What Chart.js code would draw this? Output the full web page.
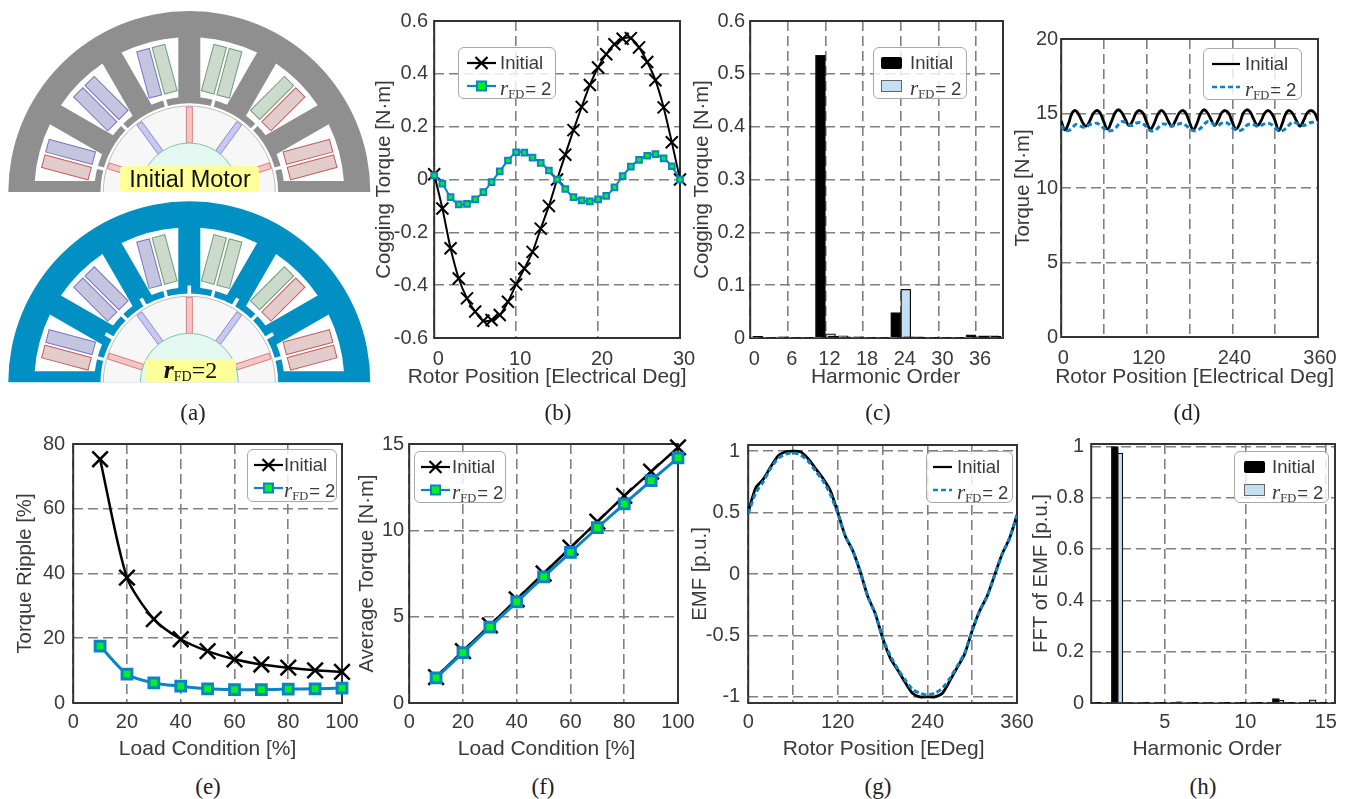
<!DOCTYPE html>
<html>
<head>
<meta charset="utf-8">
<title>Motor comparison</title>
<script src="https://cdn.jsdelivr.net/npm/chart.js@4"></script>
<style>
  html, body { margin: 0; padding: 0; background: #fff; }
  #page { position: relative; width: 1351px; height: 799px; overflow: hidden; font-family: "Liberation Sans", Arial, sans-serif; color: #3a3a3a; }
  canvas, svg.motor { position: absolute; }
  .caption { position: absolute; font: 23px "Liberation Serif", serif; color: #222; transform: translate(-50%, -50%); }
  .legend { position: absolute; box-sizing: border-box; background: rgba(255,255,255,0.82); border: 1.5px solid #a8a8a8; border-radius: 6px; }
  .legend span.t { position: absolute; font-size: 18.5px; line-height: 20px; white-space: nowrap; }
  .legend svg { position: absolute; }
  .legend i { font: italic 21px "Liberation Serif", serif; }
  .legend small { font: 12.5px "Liberation Serif", serif; position: relative; top: 3px; margin-right: 1px; }
</style>
</head>
<body>
<div id="page"></div>
<script>
// (b) cogging torque vs rotor position
const cogAngle = [0,1,2,3,4,5,6,7,8,9,10,11,12,13,14,15,16,17,18,19,20,21,22,23,24,25,26,27,28,29,30];
const cogInitial = [0.02,-0.11,-0.26,-0.375,-0.45,-0.5,-0.535,-0.532,-0.513,-0.463,-0.397,-0.337,-0.274,-0.186,-0.1,0,0.094,0.187,0.275,0.358,0.424,0.474,0.512,0.533,0.535,0.5,0.445,0.376,0.273,0.141,0];
const cogRfd = [0.015,-0.016,-0.067,-0.094,-0.092,-0.075,-0.048,-0.01,0.031,0.072,0.103,0.102,0.083,0.063,0.034,0,-0.036,-0.067,-0.079,-0.083,-0.075,-0.062,-0.03,0.013,0.049,0.074,0.09,0.096,0.08,0.05,0];

// (c) harmonics of cogging torque
const cogOrders = [0,2,4,6,8,10,12,14,16,18,20,22,24,26,28,30,32,34,36,38,40];
const cogHarmInitial = [0.003,0.003,0.001,0.002,0.001,0.001,0.535,0.003,0.002,0.002,0.001,0.001,0.048,0.002,0.001,0.001,0.001,0.001,0.006,0.004,0.003];
const cogHarmRfd = [0.001,0.001,0.001,0.001,0.001,0.001,0.008,0.004,0.001,0.001,0.001,0.001,0.092,0.002,0.001,0.001,0.001,0.001,0.002,0.004,0.001];

// (d) torque waveform, one sample every 5 degrees
const torqueAngle = [0,5,10,15,20,25,30,35,40,45,50,55,60,65,70,75,80,85,90,95,100,105,110,115,120,125,130,135,140,145,150,155,160,165,170,175,180,185,190,195,200,205,210,215,220,225,230,235,240,245,250,255,260,265,270,275,280,285,290,295,300,305,310,315,320,325,330,335,340,345,350,355,360];
const torqueInitial = [14.5,13.9,14.3,15,15.2,14.9,14.4,14.15,14.5,15,15.2,15,14.4,13.95,14.4,15,15.25,15.05,14.6,14.2,14.5,15.05,15.2,15,14.4,13.95,14.3,14.9,15.2,15,14.5,14.15,14.5,15,15.2,15,14.4,13.9,14.3,14.95,15.25,15.05,14.6,14.2,14.55,15.05,15.2,15,14.4,13.95,14.3,15,15.25,15.1,14.6,14.2,14.5,15,15.2,15,14.5,13.85,14.35,15,15.2,14.95,14.5,14.15,14.55,15.05,15.2,15.05,14.5];
const torqueRfd = [14.2,13.85,13.85,14,14.25,14.2,14.1,14.1,14.25,14.3,14.35,14.2,14,13.85,13.85,13.95,14.25,14.45,14.4,14.25,14.2,14.35,14.4,14.3,14.1,13.85,13.85,14,14.25,14.3,14.2,14.15,14.25,14.3,14.35,14.2,14,13.85,13.85,14,14.25,14.45,14.4,14.25,14.2,14.35,14.4,14.3,14.05,13.9,13.85,13.95,14.2,14.3,14.25,14.15,14.2,14.3,14.35,14.25,14.05,13.85,13.85,14,14.25,14.45,14.35,14.25,14.2,14.3,14.4,14.4,14.35];

// (e) and (f) load sweep
const loadPct = [10,20,30,40,50,60,70,80,90,100];
const rippleInitial = [75.3,38.7,25.9,19.7,16,13.5,11.9,10.9,10.1,9.6];
const rippleRfd = [17.6,8.9,6.2,5.2,4.4,4.1,4.1,4.3,4.4,4.6];
const avgInitial = [1.5,3,4.5,6,7.5,9,10.5,12,13.4,14.8];
const avgRfd = [1.45,2.92,4.39,5.86,7.31,8.72,10.15,11.53,12.88,14.2];

// (g) EMF waveform, one sample every 10 degrees
const emfAngle = [0,10,20,30,40,50,60,70,80,90,100,110,120,130,140,150,160,170,180,190,200,210,220,230,240,250,260,270,280,290,300,310,320,330,340,350,360];
const emfInitial = [0.505,0.7,0.77,0.87,0.96,0.995,1,0.995,0.94,0.86,0.78,0.68,0.5,0.31,0.19,0.02,-0.18,-0.32,-0.52,-0.68,-0.78,-0.88,-0.97,-1,-1,-1,-0.97,-0.87,-0.76,-0.65,-0.46,-0.3,-0.18,-0.01,0.16,0.29,0.48];
const emfRfd = [0.49,0.66,0.75,0.86,0.94,0.975,0.985,0.97,0.92,0.84,0.76,0.65,0.49,0.31,0.19,0.02,-0.18,-0.32,-0.52,-0.66,-0.77,-0.86,-0.94,-0.97,-0.985,-0.97,-0.93,-0.85,-0.75,-0.64,-0.46,-0.3,-0.18,-0.01,0.16,0.29,0.48];

// (h) harmonics of EMF
const emfOrders = [1,2,3,4,5,6,7,8,9,10,11,12,13,14,15];
const emfHarmInitial = [0.001,1,0.003,0.002,0.001,0.005,0.001,0.003,0.001,0.001,0.001,0.017,0.001,0.003,0.001];
const emfHarmRfd = [0.001,0.975,0.002,0.001,0.001,0.002,0.001,0.001,0.001,0.001,0.001,0.01,0.001,0.012,0.001];

// tick lists
const ticksCogY = [-0.6,-0.4,-0.2,0,0.2,0.4,0.6];
const ticksCogX = [0,10,20,30];
const ticksHarmY = [0,0.1,0.2,0.3,0.4,0.5,0.6];
const ticksHarmX = [0,6,12,18,24,30,36];
const ticksTorqueY = [0,5,10,15,20];
const ticksDeg = [0,60,120,180,240,300,360];
const ticksRippleY = [0,20,40,60,80];
const ticksLoadX = [0,20,40,60,80,100];
const ticksAvgY = [0,5,10,15];
const ticksEmfY = [-1,-0.5,0,0.5,1];
const ticksFftY = [0,0.2,0.4,0.6,0.8,1];
const ticksFftX = [5,10,15];

const BLUE = "#0a84c6";
const GREEN = "#00f020";
const BAR_BLUE = "#c5dff2";
const TXT = "#3a3a3a";
const FONT = '"Liberation Sans", Arial, sans-serif';
const page = document.getElementById("page");

const frame = {
  id: "frame",
  beforeDatasetsDraw(chart) {
    const { ctx, chartArea: a } = chart;
    ctx.save();
    ctx.strokeStyle = "#333";
    ctx.lineWidth = 2;
    ctx.strokeRect(a.left, a.top, a.right - a.left, a.bottom - a.top);
    ctx.restore();
  },
};

// x titles are wider than some plots and the scale title would squeeze them
const xTitle = {
  id: "xTitle",
  afterDraw(chart, args, opts) {
    const { ctx, chartArea: a } = chart;
    ctx.save();
    ctx.font = `21px ${FONT}`;
    ctx.fillStyle = TXT;
    ctx.textAlign = "center";
    ctx.textBaseline = "middle";
    ctx.fillText(opts.text, (a.left + a.right) / 2 + opts.shift, a.bottom + opts.off);
    ctx.restore();
  },
};

const pairs = (xs, ys, dx = 0) => ys.map((y, i) => ({ x: xs[i] + dx, y }));

const crossSet = (xs, ys, r, w) => ({
  data: pairs(xs, ys), borderColor: "#000", backgroundColor: "#000", borderWidth: w,
  pointStyle: "crossRot", pointRadius: r, pointBorderWidth: w, pointBorderColor: "#000",
  order: 2, clip: false,
});
const squareSet = (xs, ys, r, w) => ({
  data: pairs(xs, ys), borderColor: BLUE, borderWidth: w,
  pointStyle: "rect", pointRadius: r, pointBorderWidth: w, pointBorderColor: BLUE, pointBackgroundColor: GREEN,
  order: 1, clip: false,
});
const plainSet = (xs, ys) => ({ data: pairs(xs, ys), borderColor: "#000", borderWidth: 2.8, pointRadius: 0, order: 2 });
const dashSet = (xs, ys) => ({ data: pairs(xs, ys), borderColor: BLUE, borderWidth: 3, borderDash: [5, 3], pointRadius: 0, order: 1 });
const barSet = (xs, ys, dx, fill, w) => ({
  type: "bar", data: pairs(xs, ys, dx), backgroundColor: fill, borderColor: "#111", borderWidth: 1.3,
  barThickness: w, grouped: false,
});

function panel(box, type, datasets, o) {
  const top = 20, right = 30;
  const yW = o.yOff + 12.2;
  const xH = o.xOff + 14;
  const cv = document.createElement("canvas");
  cv.width = Math.round(yW + box.r - box.l + right);
  cv.height = Math.round(top + box.b - box.t + xH);
  cv.style.left = box.l - yW + "px";
  cv.style.top = box.t - top + "px";
  page.appendChild(cv);

  const grid = { color: "#808080", lineWidth: 1.6, drawTicks: false, offset: false };
  const border = { display: false, dash: [10, 5] };
  const font = { family: FONT, size: 20 };

  new Chart(cv.getContext("2d"), {
    type,
    data: { datasets },
    plugins: [frame, xTitle],
    options: {
      responsive: false,
      animation: false,
      layout: { padding: { top, right, left: 0, bottom: 0 } },
      elements: { line: { tension: o.tension || 0 } },
      plugins: {
        legend: { display: false },
        tooltip: { enabled: false },
        xTitle: { text: o.xTitle, shift: o.xTitleShift || 0, off: o.xOff },
      },
      scales: {
        x: {
          type: "linear", offset: false, min: o.xMin, max: o.xMax, grid, border,
          afterBuildTicks: (s) => { s.ticks = o.xTicks.map((value) => ({ value })); },
          afterFit: (s) => { s.height = xH; },
          ticks: {
            font, color: TXT, padding: o.xPad, autoSkip: false, maxRotation: 0, labelOffset: o.xLabelShift || 0,
            callback: o.xLabel || ((v) => String(v)),
          },
        },
        y: {
          min: o.yMin, max: o.yMax, grid, border,
          afterBuildTicks: (s) => { s.ticks = o.yTicks.map((value) => ({ value })); },
          afterFit: (s) => { s.width = yW; },
          ticks: { font, color: TXT, padding: o.yPad, autoSkip: false, callback: (v) => String(v) },
          title: { display: true, text: o.yTitle, font: { family: FONT, size: 20.3 }, color: TXT, padding: 0 },
        },
      },
    },
  });
}

panel({ l: 434, t: 21, r: 680, b: 338 }, "line",
  [crossSet(cogAngle, cogInitial, 8.5, 2), squareSet(cogAngle, cogRfd, 4, 2)],
  { xMin: 0, xMax: 30, yMin: -0.6, yMax: 0.6, xTicks: ticksCogX, yTicks: ticksCogY, xTitle: "Rotor Position [Electrical Deg]", xTitleShift: -10, yTitle: "Cogging Torque [N·m]", yOff: 50, xOff: 39, xPad: 9, yPad: 6, xLabelShift: 4, tension: 0.3 });

panel({ l: 750, t: 21, r: 1003, b: 338 }, "bar",
  [barSet(cogOrders, cogHarmInitial, -0.8, "#000", 10), barSet(cogOrders, cogHarmRfd, 0.8, BAR_BLUE, 10)],
  { xMin: 0, xMax: 40.3, yMin: 0, yMax: 0.6, xTicks: ticksHarmX, yTicks: ticksHarmY, xTitle: "Harmonic Order", xTitleShift: 9, yTitle: "Cogging Torque [N·m]", yOff: 48, xOff: 39, xPad: 9, yPad: 5, xLabelShift: 4 });

panel({ l: 1061, t: 39, r: 1318, b: 337 }, "line",
  [plainSet(torqueAngle, torqueInitial), dashSet(torqueAngle, torqueRfd)],
  { xMin: 0, xMax: 360, yMin: 0, yMax: 20, xTicks: ticksDeg, yTicks: ticksTorqueY, xLabel: (v) => (v % 120 === 0 ? String(v) : ""), xTitle: "Rotor Position [Electrical Deg]", xTitleShift: 5, yTitle: "Torque [N·m]", yOff: 38, xOff: 40, xPad: 9, yPad: 3, xLabelShift: 2, tension: 0.4 });

panel({ l: 73, t: 444, r: 342, b: 703 }, "line",
  [crossSet(loadPct, rippleInitial, 11, 2.5), squareSet(loadPct, rippleRfd, 6.9, 3)],
  { xMin: 0, xMax: 100, yMin: 0, yMax: 80, xTicks: ticksLoadX, yTicks: ticksRippleY, xTitle: "Load Condition [%]", yTitle: "Torque Ripple [%]", yOff: 48, xOff: 46, xPad: 7, yPad: 8, tension: 0.25 });

panel({ l: 409, t: 444, r: 678, b: 703 }, "line",
  [crossSet(loadPct, avgInitial, 11, 2.5), squareSet(loadPct, avgRfd, 6.9, 3)],
  { xMin: 0, xMax: 100, yMin: 0, yMax: 15, xTicks: ticksLoadX, yTicks: ticksAvgY, xTitle: "Load Condition [%]", xTitleShift: 3, yTitle: "Average Torque [N·m]", yOff: 42, xOff: 46, xPad: 7, yPad: 5 });

panel({ l: 748, t: 445, r: 1017, b: 703 }, "line",
  [plainSet(emfAngle, emfInitial), dashSet(emfAngle, emfRfd)],
  { xMin: 0, xMax: 360, yMin: -1.05, yMax: 1.05, xTicks: ticksDeg, yTicks: ticksEmfY, xLabel: (v) => (v % 120 === 0 ? String(v) : ""), xTitle: "Rotor Position [EDeg]", xTitleShift: 1, yTitle: "EMF [p.u.]", yOff: 48, xOff: 46, xPad: 7, yPad: 8, tension: 0.25 });

panel({ l: 1091, t: 444, r: 1335, b: 703 }, "bar",
  [barSet(emfOrders, emfHarmInitial, -0.1, "#000", 7), barSet(emfOrders, emfHarmRfd, 0.18, BAR_BLUE, 7)],
  { xMin: 0.43, xMax: 15.57, yMin: 0, yMax: 1.01, xTicks: ticksFftX, yTicks: ticksFftY, xTitle: "Harmonic Order", xTitleShift: -6, yTitle: "FFT of EMF [p.u.]", yOff: 50, xOff: 46, xPad: 7, yPad: 7 });

// legends
const RFD_LABEL = "<i>r</i><small>FD</small>= 2";
function keySvg(kind, w) {
  const h = 20, m = w / 2;
  let s = "";
  if (kind === "cross") {
    s = `<line x1="0" y1="10" x2="${w}" y2="10" stroke="#000" stroke-width="2.2"/>` +
      `<path d="M${m - 6} 4L${m + 6} 16M${m + 6} 4L${m - 6} 16" stroke="#000" stroke-width="2.2"/>`;
  } else if (kind === "square") {
    s = `<line x1="0" y1="10" x2="${w}" y2="10" stroke="${BLUE}" stroke-width="2.2"/>` +
      `<rect x="${m - 4.5}" y="5.5" width="9" height="9" fill="${GREEN}" stroke="${BLUE}" stroke-width="2"/>`;
  } else if (kind === "line") {
    s = `<line x1="0" y1="10" x2="${w}" y2="10" stroke="#000" stroke-width="2.2"/>`;
  } else if (kind === "dash") {
    s = `<line x1="0" y1="10" x2="${w}" y2="10" stroke="${BLUE}" stroke-width="2.5" stroke-dasharray="5 3"/>`;
  } else if (kind === "black") {
    s = `<rect x="0" y="4" width="${w}" height="12" rx="2" fill="#000"/>`;
  } else {
    s = `<rect x="0.5" y="4.5" width="${w - 1}" height="11" fill="${BAR_BLUE}" stroke="#666"/>`;
  }
  return `<svg width="${w}" height="${h}">${s}</svg>`;
}
function legend(l, t, r, b, kinds, keyX, keyW, textX) {
  const d = document.createElement("div");
  d.className = "legend";
  d.style.cssText = `left:${l}px;top:${t}px;width:${r - l}px;height:${b - t}px`;
  const rows = [["Initial", kinds[0], 5], [RFD_LABEL, kinds[1], 28]];
  d.innerHTML = rows.map(([label, kind, y]) =>
    keySvg(kind, keyW).replace("<svg ", `<svg style="left:${keyX}px;top:${y}px" `) +
    `<span class="t" style="left:${textX}px;top:${y}px">${label}</span>`).join("");
  page.appendChild(d);
}
legend(458, 47, 556, 99, ["cross", "square"], 8, 29, 41);
legend(873, 47, 967, 99, ["black", "bar"], 7, 21, 36);
legend(1203, 48, 1302, 100, ["line", "dash"], 8, 28, 41);
legend(247, 449, 337, 502, ["cross", "square"], 6, 29, 36);
legend(414, 451, 506, 503, ["cross", "square"], 6, 29, 37);
legend(926, 451, 1013, 503, ["line", "dash"], 6, 19, 30);
legend(1234, 451, 1329, 503, ["black", "bar"], 9, 21, 37);

// captions
[["(a)", 193, 413], ["(b)", 558, 413], ["(c)", 878, 413], ["(d)", 1187, 413],
 ["(e)", 208, 787], ["(f)", 543, 787], ["(g)", 878, 787], ["(h)", 1203, 787]].forEach(([t, x, y]) => {
  const s = document.createElement("span");
  s.className = "caption";
  s.textContent = t;
  s.style.left = x + "px";
  s.style.top = y + "px";
  page.appendChild(s);
});

// (a) motor cross sections
const RAD = Math.PI / 180;
function motor(cy, statorColor, notches, labelHtml, lb) {
  const cx = 189.3, R = 181, Ri = 88.8, Rs = 155, Rb = 95, hw = 11;
  const pt = (deg, along, off) => {
    const c = Math.cos(deg * RAD), s = Math.sin(deg * RAD);
    return [(cx + along * c - off * s).toFixed(1), (cy - along * s - off * c).toFixed(1)];
  };
  let s = `<clipPath id="half${cy}"><rect x="0" y="0" width="400" height="${cy}"/></clipPath><g clip-path="url(#half${cy})">`;
  s += `<circle cx="${cx}" cy="${cy}" r="${R}" fill="${statorColor}"/>`;
  s += `<circle cx="${cx}" cy="${cy}" r="${Ri}" fill="#fff"/>`;
  [15, 45, 75, 105, 135, 165].forEach((th) => {
    const t1 = th - 15, t2 = th + 15;
    const a = Math.sqrt(Rs * Rs - hw * hw), b = Math.sqrt(Rb * Rb - hw * hw);
    const o1 = pt(t1, a, hw), o2 = pt(t2, a, -hw), i2 = pt(t2, b, -hw), i1 = pt(t1, b, hw);
    s += `<path fill="#fff" d="M${o1}A${Rs} ${Rs} 0 0 0 ${o2}L${i2}A${Rb} ${Rb} 0 0 1 ${i1}Z"/>`;
    s += `<rect x="${Ri - 2}" y="-1.6" width="${Rb - Ri + 4}" height="3.2" fill="#fff" transform="translate(${cx} ${cy}) rotate(${-th})"/>`;
  });
  if (notches) {
    [30, 60, 90, 120, 150].forEach((th) => {
      s += `<rect x="${Ri - 1}" y="-1.8" width="9" height="3.6" fill="#fff" transform="translate(${cx} ${cy}) rotate(${-th})"/>`;
    });
  }
  const P = ["#c5c5e0", "#7474c4"], G = ["#ccdacc", "#6c9c7c"], Q = ["#e3cccc", "#c05c5c"];
  [[15, Q, Q], [45, Q, G], [75, G, G], [105, G, P], [135, P, P], [165, P, Q]].forEach(([th, cw, ccw]) => {
    [[cw, 1.5], [ccw, -14.5]].forEach(([c, y]) => {
      s += `<rect x="101" y="${y}" width="48" height="13" fill="${c[0]}" stroke="${c[1]}" stroke-width="1" transform="translate(${cx} ${cy}) rotate(${-th})"/>`;
    });
  });
  s += `<circle cx="${cx}" cy="${cy}" r="86" fill="#f7f7f7" stroke="#bdbdbd" stroke-width="1"/>`;
  [18, 54, 90, 126, 162].forEach((th) => {
    const col = th === 54 || th === 126 ? ["#c8c8f0", "#8080d0"] : ["#f6c6c6", "#d07070"];
    s += `<rect x="49" y="-3" width="36" height="6" fill="${col[0]}" stroke="${col[1]}" stroke-width="0.8" transform="translate(${cx} ${cy}) rotate(${-th})"/>`;
  });
  s += `<circle cx="${cx}" cy="${cy}" r="49" fill="#e2f8f1" stroke="#86c4aa" stroke-width="1"/>`;
  s += `</g>`;
  s += `<rect x="${lb[0]}" y="${lb[1]}" width="${lb[2] - lb[0]}" height="${lb[3] - lb[1]}" rx="4" fill="#ffff99"/>`;
  s += labelHtml;
  return s;
}
const motorSvg = document.createElementNS("http://www.w3.org/2000/svg", "svg");
motorSvg.setAttribute("class", "motor");
motorSvg.setAttribute("width", "400");
motorSvg.setAttribute("height", "400");
motorSvg.style.left = "0";
motorSvg.style.top = "0";
motorSvg.innerHTML =
  motor(192, "#8f8f8f", false,
    `<text x="190" y="187" text-anchor="middle" font-family="Liberation Sans" font-size="23.5" fill="#111">Initial Motor</text>`,
    [120, 166, 259, 192]) +
  motor(382.3, "#0090c4", true,
    `<text x="190.5" y="378" text-anchor="middle" font-family="Liberation Serif" fill="#111"><tspan font-style="italic" font-weight="bold" font-size="26">r</tspan><tspan font-size="14" dy="3">FD</tspan><tspan font-size="24" dy="-3">=2</tspan></text>`,
    [145, 359, 236, 382.3]);
page.appendChild(motorSvg);
</script>
</body>
</html>
